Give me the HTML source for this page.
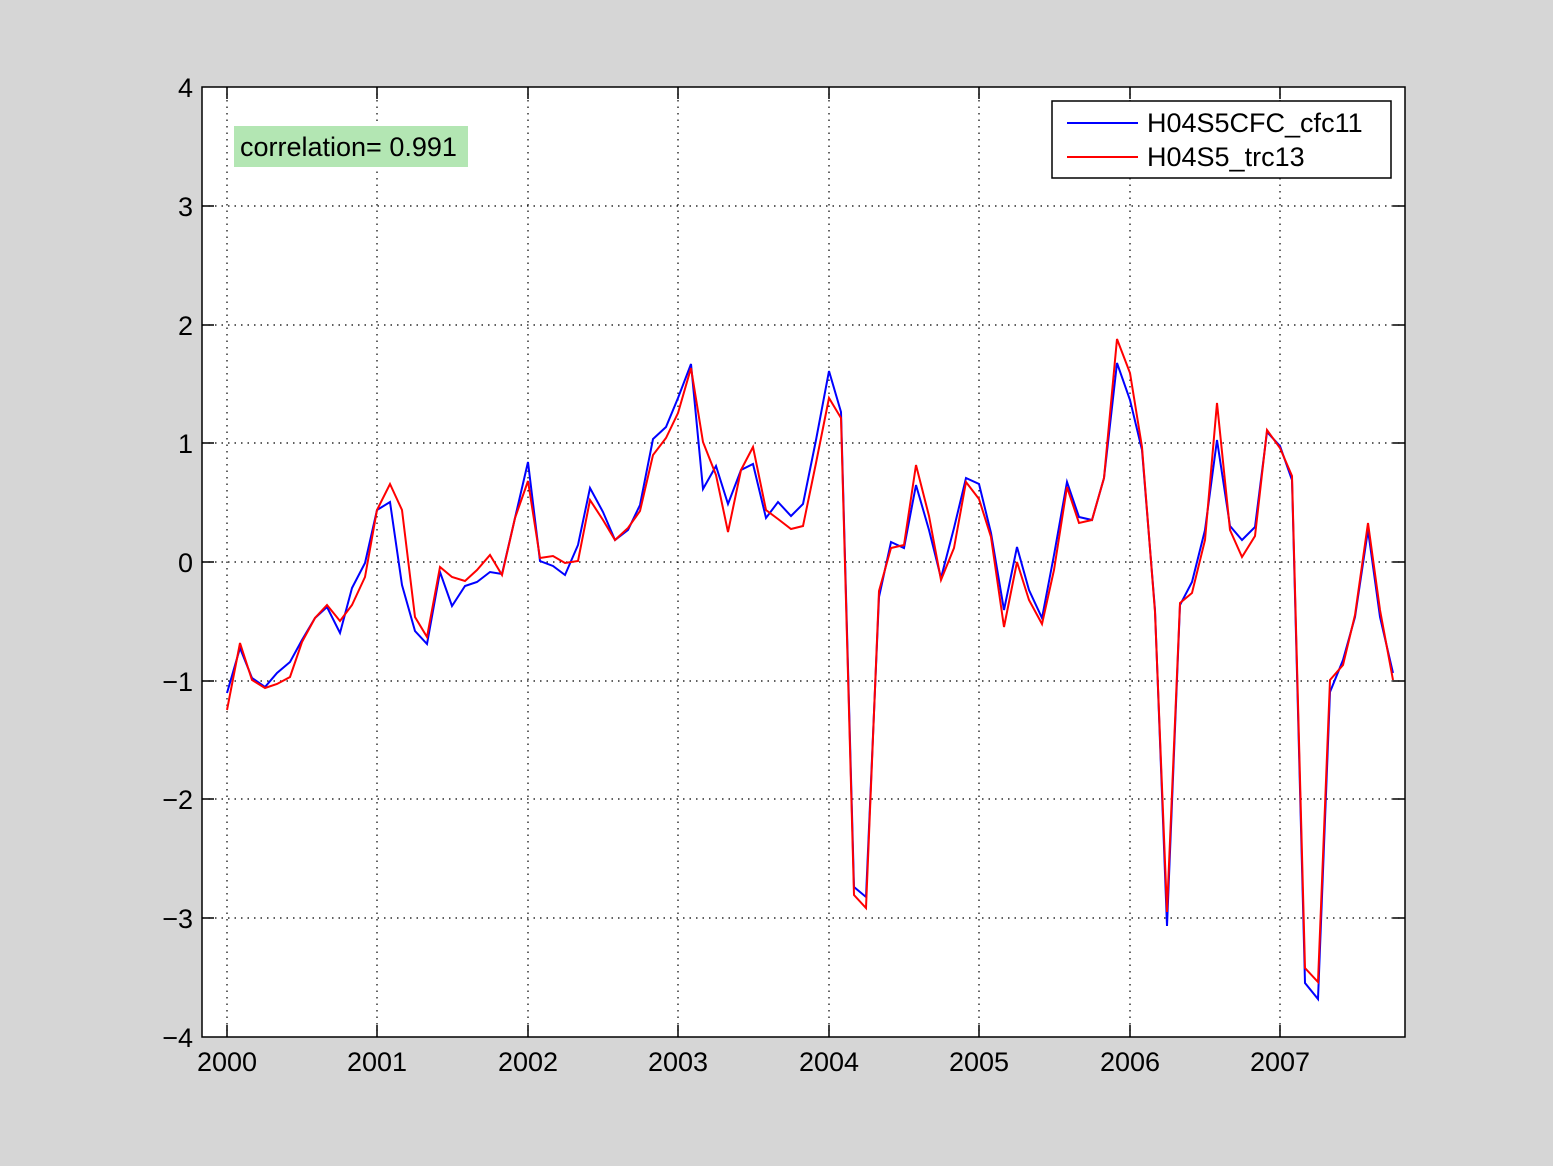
<!DOCTYPE html>
<html><head><style>body{margin:0;background:#d6d6d6}svg{display:block}text{font-family:"Liberation Sans",sans-serif;font-size:27px;fill:#000}</style></head><body>
<svg width="1553" height="1166" xmlns="http://www.w3.org/2000/svg">
<rect x="0" y="0" width="1553" height="1166" fill="#d6d6d6"/>
<rect x="202" y="87" width="1203" height="950" fill="#fff"/>
<g stroke="#000" stroke-width="1.2" stroke-dasharray="1.5,5" fill="none">
<line x1="202" y1="206" x2="1405" y2="206"/><line x1="202" y1="325" x2="1405" y2="325"/><line x1="202" y1="443" x2="1405" y2="443"/><line x1="202" y1="562" x2="1405" y2="562"/><line x1="202" y1="681" x2="1405" y2="681"/><line x1="202" y1="799" x2="1405" y2="799"/><line x1="202" y1="918" x2="1405" y2="918"/>
<line x1="227" y1="87" x2="227" y2="1037"/><line x1="377" y1="87" x2="377" y2="1037"/><line x1="528" y1="87" x2="528" y2="1037"/><line x1="678" y1="87" x2="678" y2="1037"/><line x1="829" y1="87" x2="829" y2="1037"/><line x1="979" y1="87" x2="979" y2="1037"/><line x1="1130" y1="87" x2="1130" y2="1037"/><line x1="1280" y1="87" x2="1280" y2="1037"/>
</g>
<g stroke="#000" stroke-width="1.5">
<line x1="202" y1="206" x2="214" y2="206"/><line x1="202" y1="325" x2="214" y2="325"/><line x1="202" y1="443" x2="214" y2="443"/><line x1="202" y1="562" x2="214" y2="562"/><line x1="202" y1="681" x2="214" y2="681"/><line x1="202" y1="799" x2="214" y2="799"/><line x1="202" y1="918" x2="214" y2="918"/>
<line x1="1393" y1="206" x2="1405" y2="206"/><line x1="1393" y1="325" x2="1405" y2="325"/><line x1="1393" y1="443" x2="1405" y2="443"/><line x1="1393" y1="562" x2="1405" y2="562"/><line x1="1393" y1="681" x2="1405" y2="681"/><line x1="1393" y1="799" x2="1405" y2="799"/><line x1="1393" y1="918" x2="1405" y2="918"/>
<line x1="227" y1="1025" x2="227" y2="1037"/><line x1="377" y1="1025" x2="377" y2="1037"/><line x1="528" y1="1025" x2="528" y2="1037"/><line x1="678" y1="1025" x2="678" y2="1037"/><line x1="829" y1="1025" x2="829" y2="1037"/><line x1="979" y1="1025" x2="979" y2="1037"/><line x1="1130" y1="1025" x2="1130" y2="1037"/><line x1="1280" y1="1025" x2="1280" y2="1037"/>
<line x1="227" y1="87" x2="227" y2="99"/><line x1="377" y1="87" x2="377" y2="99"/><line x1="528" y1="87" x2="528" y2="99"/><line x1="678" y1="87" x2="678" y2="99"/><line x1="829" y1="87" x2="829" y2="99"/><line x1="979" y1="87" x2="979" y2="99"/><line x1="1130" y1="87" x2="1130" y2="99"/><line x1="1280" y1="87" x2="1280" y2="99"/>
</g>
<rect x="202" y="87" width="1203" height="950" fill="none" stroke="#000" stroke-width="1.5"/>
<polyline fill="none" stroke="#0000ff" stroke-width="2" points="227,693 240,648 252,678 265,687 277,673 290,662 302,640 315,618 327,607 340,633 352,588 365,563 377,510 390,502 402,585 415,631 427,644 440,572 452,606 465,586 477,582 490,572 502,574 515,518 528,462 540,561 553,566 565,575 578,545 590,488 603,512 615,540 628,530 640,505 653,439 666,427 678,398 691,364 703,489 716,466 728,504 741,470 753,464 766,518 778,502 791,516 803,504 816,440 829,371 841,412 854,887 866,897 879,597 891,542 904,548 916,485 929,530 941,578 954,528 966,478 979,484 991,533 1004,610 1017,547 1029,590 1042,618 1054,555 1067,482 1079,517 1092,520 1104,478 1117,363 1130,400 1142,450 1155,610 1167,926 1180,605 1192,582 1205,530 1217,440 1230,526 1242,540 1255,527 1267,432 1280,446 1292,480 1305,983 1318,999 1330,692 1343,660 1355,617 1368,530 1380,617 1393,673"/>
<polyline fill="none" stroke="#ff0000" stroke-width="2" points="227,710 240,643 252,680 265,688 277,684 290,677 302,642 315,618 327,605 340,621 352,605 365,577 377,510 390,484 402,510 415,617 427,637 440,567 452,577 465,581 477,570 490,555 502,575 515,518 528,481 540,558 553,556 565,563 578,561 590,500 603,520 615,540 628,528 640,511 653,455 666,438 678,413 691,368 703,442 716,475 728,532 741,470 753,447 766,510 778,519 791,529 803,526 816,463 829,398 841,418 854,895 866,908 879,591 891,548 904,545 916,465 929,516 941,580 954,548 966,482 979,499 991,537 1004,627 1017,562 1029,600 1042,624 1054,570 1067,487 1079,523 1092,520 1104,478 1117,339 1130,373 1142,447 1155,612 1167,912 1180,603 1192,593 1205,540 1217,403 1230,530 1242,557 1255,536 1267,430 1280,448 1292,476 1305,968 1318,982 1330,680 1343,665 1355,615 1368,523 1380,610 1393,680"/>
<g text-anchor="end">
<text x="193" y="97">4</text><text x="193" y="216">3</text><text x="193" y="335">2</text><text x="193" y="453">1</text><text x="193" y="572">0</text><text x="193" y="691">−1</text><text x="193" y="809">−2</text><text x="193" y="928">−3</text><text x="193" y="1047">−4</text>
</g>
<g text-anchor="middle">
<text x="227" y="1071">2000</text><text x="377" y="1071">2001</text><text x="528" y="1071">2002</text><text x="678" y="1071">2003</text><text x="829" y="1071">2004</text><text x="979" y="1071">2005</text><text x="1130" y="1071">2006</text><text x="1280" y="1071">2007</text>
</g>
<rect x="234" y="126" width="234" height="41" fill="#b3e6b3"/>
<text x="240" y="156">correlation= 0.991</text>
<rect x="1052" y="101" width="339" height="77" fill="#fff" stroke="#000" stroke-width="1.5"/>
<line x1="1067" y1="123" x2="1138" y2="123" stroke="#0000ff" stroke-width="2"/>
<line x1="1067" y1="157" x2="1138" y2="157" stroke="#ff0000" stroke-width="2"/>
<text x="1147" y="132">H04S5CFC_cfc11</text>
<text x="1147" y="166">H04S5_trc13</text>
</svg>
</body></html>
